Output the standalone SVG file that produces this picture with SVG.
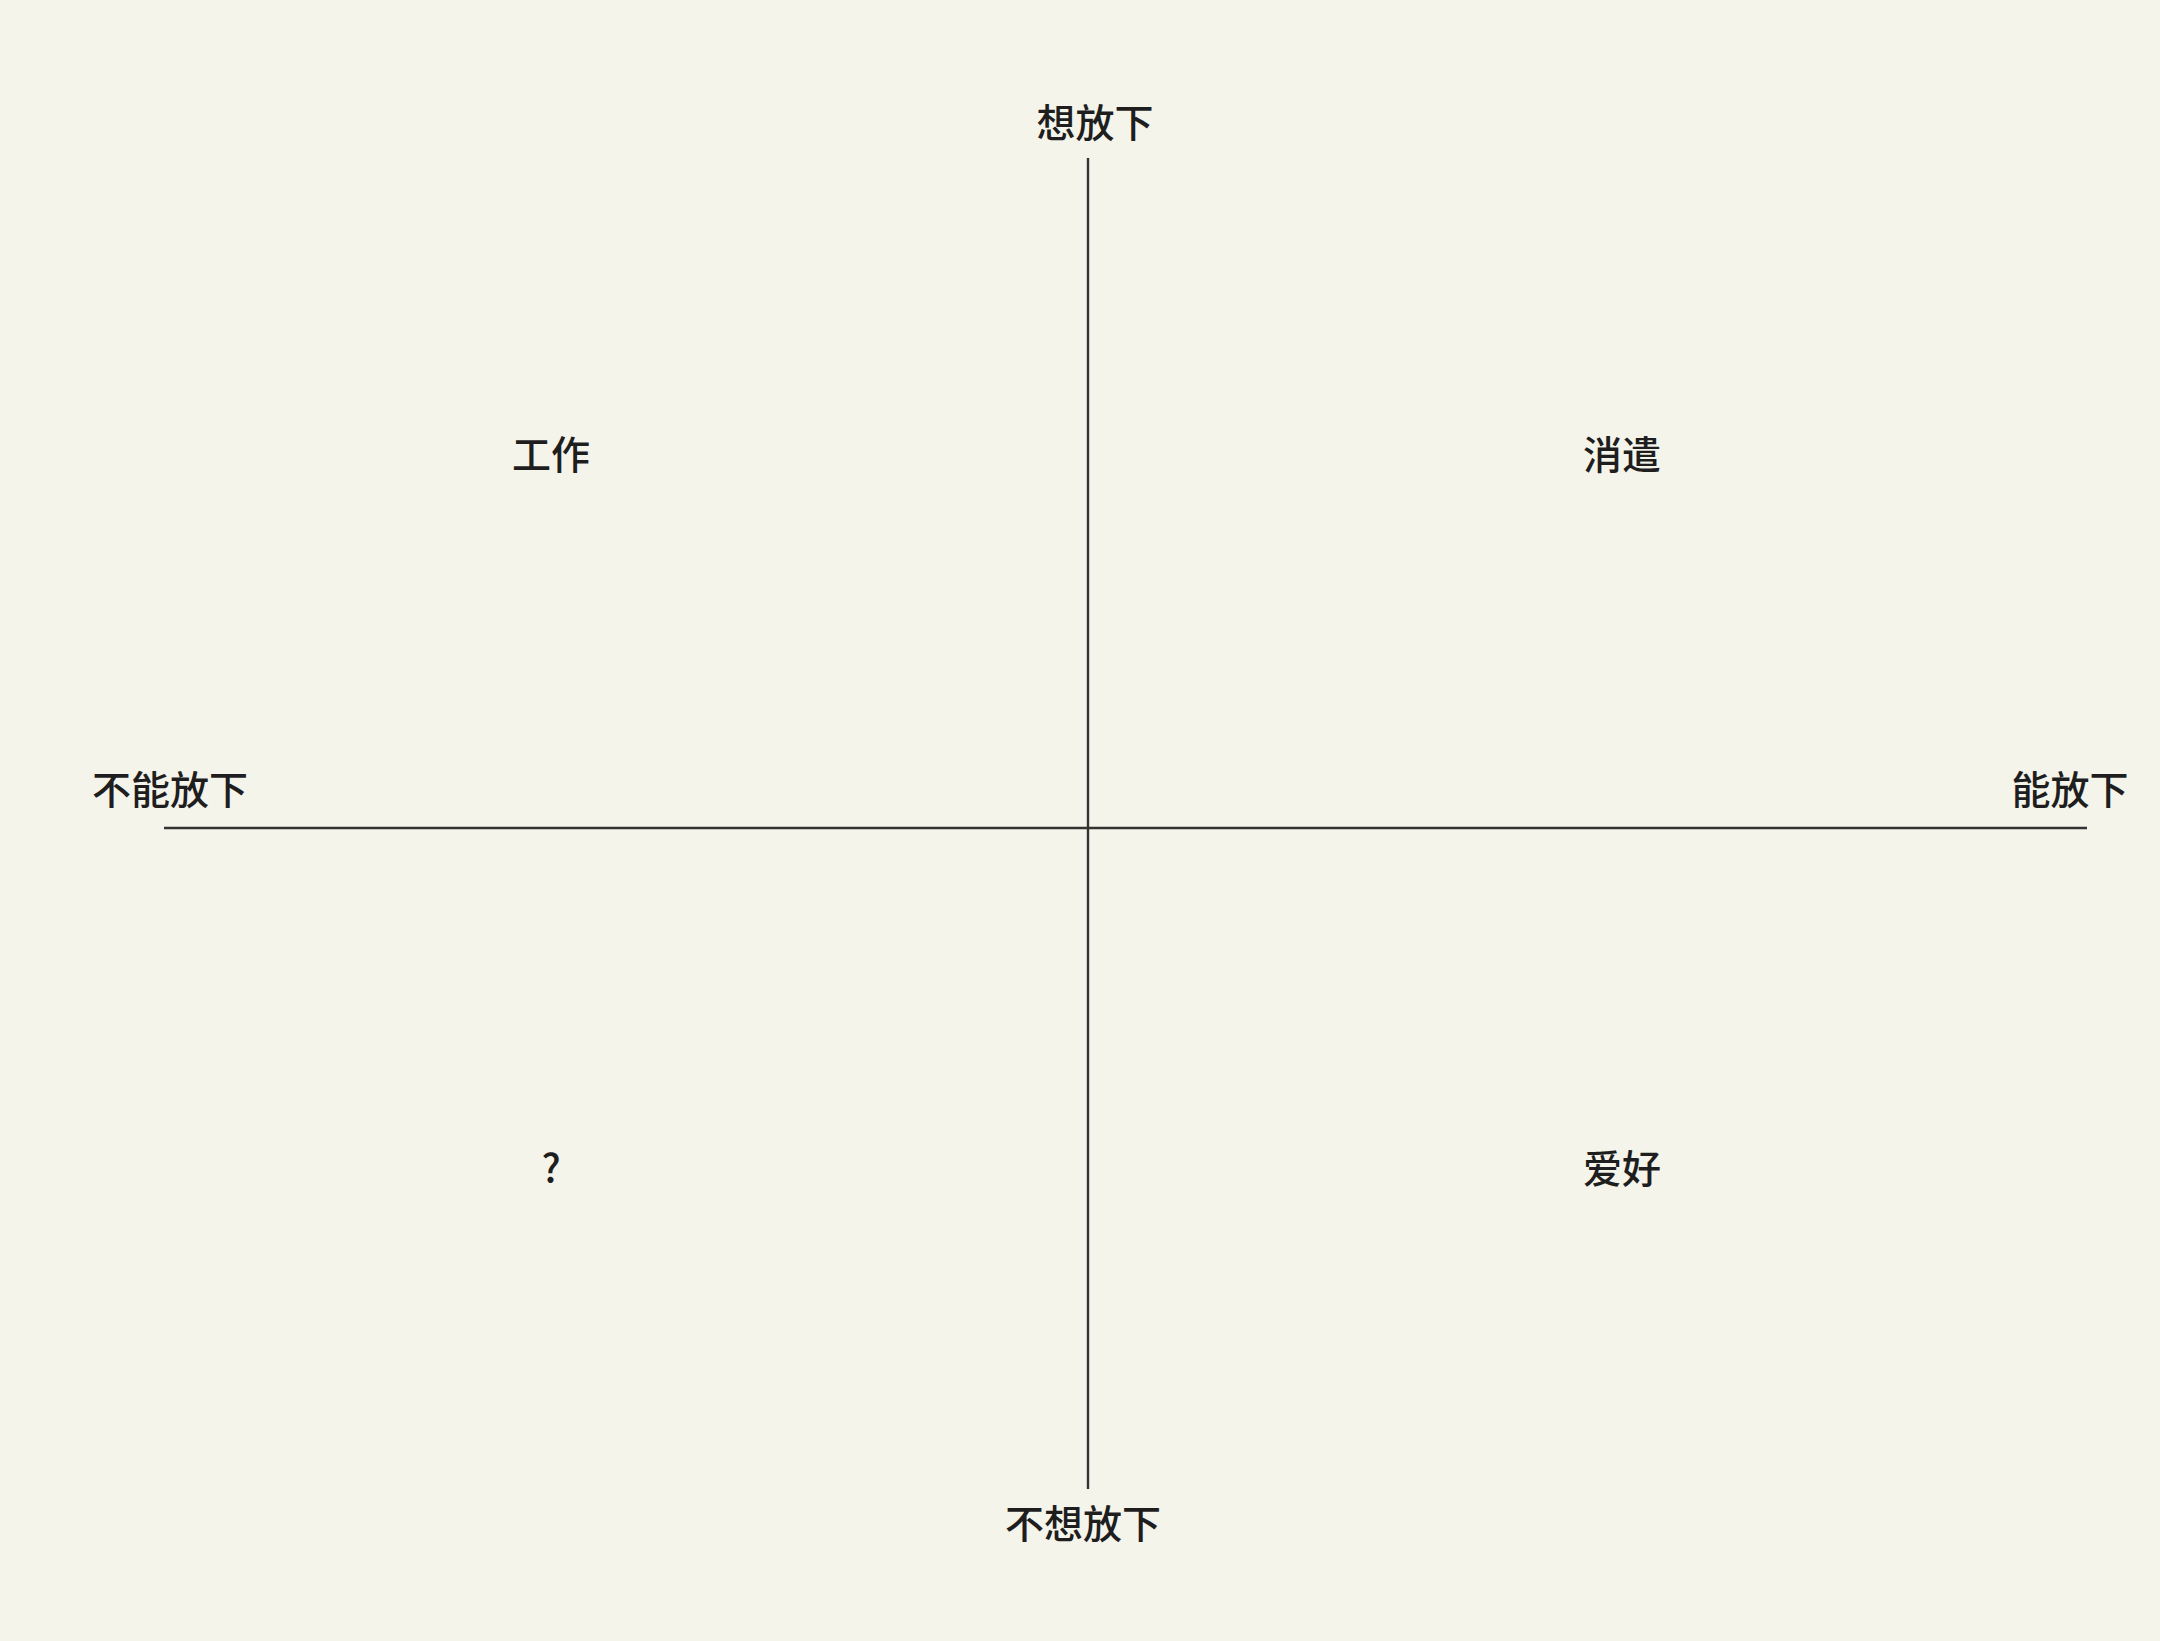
<svg xmlns="http://www.w3.org/2000/svg" width="2160" height="1641" viewBox="0 0 2160 1641">
<style>
.t{font-family:"Noto Sans CJK SC","Noto Sans",sans-serif;font-size:39px;font-weight:500;fill:#1e1e1e;text-anchor:middle;dominant-baseline:central}
.ax{stroke:#333;stroke-width:2.4;fill:none}
</style>
<rect width="2160" height="1641" fill="#f5f4eb"/>
<g id="connectors">
<line class="ax" x1="1088" y1="158" x2="1088" y2="1489"/>
<line class="ax" x1="164" y1="828" x2="2087" y2="828"/>
</g>
<g id="top"><text class="t" x="1095" y="120">想放下</text></g>
<g id="bottom"><text class="t" x="1083" y="1521">不想放下</text></g>
<g id="left"><text class="t" x="170" y="787">不能放下</text></g>
<g id="right"><text class="t" x="2070" y="787">能放下</text></g>
<g id="q1"><text class="t" x="551" y="452">工作</text></g>
<g id="q2"><text class="t" x="1622" y="452">消遣</text></g>
<g id="q3"><text class="t" x="551" y="1166">?</text></g>
<g id="q4"><text class="t" x="1622" y="1166">爱好</text></g>
</svg>
